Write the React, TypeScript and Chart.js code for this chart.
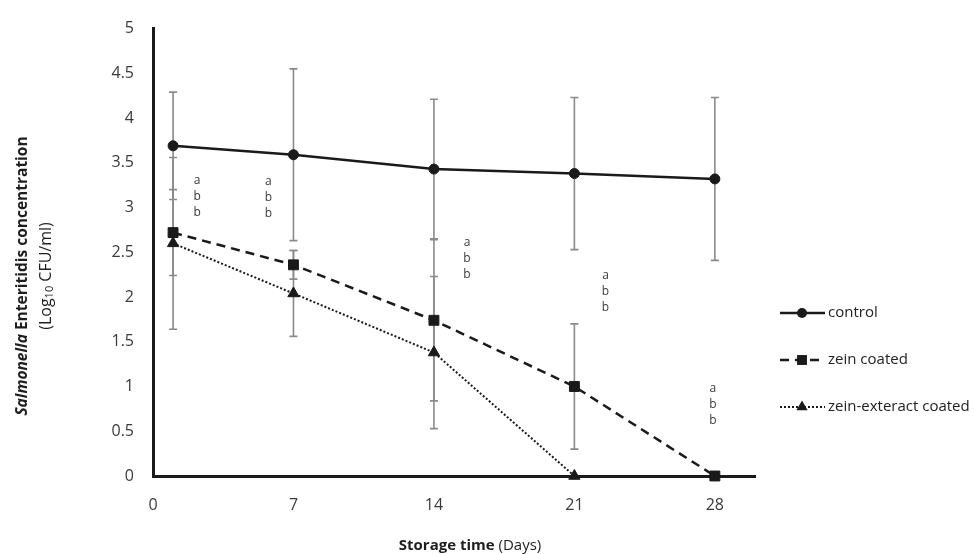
import React, { useEffect, useRef } from 'react';
import { Chart, registerables } from 'chart.js';

Chart.register(...registerables);

// ---- data ----
const DAYS = [1, 7, 14, 21, 28];
const X_TICKS = [0, 7, 14, 21, 28];

const CONTROL = [3.69, 3.59, 3.43, 3.38, 3.32];
const CONTROL_SD = [0.6, 0.96, 0.78, 0.85, 0.91];

const ZEIN = [2.72, 2.36, 1.74, 1.0, 0];
const ZEIN_SD = [0.48, 0.16, 0.9, 0.7, 0];

const EXTRACT: (number | null)[] = [2.6, 2.04, 1.38, 0, null];
const EXTRACT_SD = [0.96, 0.48, 0.85, 0, 0];

const SERIES_NAMES = ['control', 'zein coated', 'zein-exteract coated'];

// significance letters (data units)
const LETTER_X = [2.2, 5.75, 15.65, 22.55, 27.9];
const LETTER_Y = [3.3, 3.29, 2.61, 2.24, 0.98];
const LETTERS = ['a', 'b', 'b'];

const FONT = '"Open Sans", "DejaVu Sans", sans-serif';
const TEXT = '#3a3a3a';
const INK = '#1a1a1a';

export default function App() {
  const ref = useRef<HTMLCanvasElement>(null);

  useEffect(() => {
    document.body.style.margin = '0';
    const canvas = ref.current;
    if (!canvas) return;

    const sds = [CONTROL_SD, ZEIN_SD, EXTRACT_SD];

    function drawMarker(ctx: CanvasRenderingContext2D, style: string, r: number, x: number, y: number) {
      ctx.beginPath();
      if (style === 'circle') {
        ctx.arc(x, y, r, 0, Math.PI * 2);
      } else if (style === 'rect') {
        const s = Math.SQRT1_2 * r;
        ctx.rect(x - s, y - s, 2 * s, 2 * s);
      } else if (style === 'triangle') {
        ctx.moveTo(x, y - r);
        ctx.lineTo(x + r * Math.sin((2 * Math.PI) / 3), y - r * Math.cos((2 * Math.PI) / 3));
        ctx.lineTo(x + r * Math.sin((4 * Math.PI) / 3), y - r * Math.cos((4 * Math.PI) / 3));
        ctx.closePath();
      }
      ctx.fill();
    }

    const errorBars = {
      id: 'errorBars',
      beforeDatasetsDraw(chart: any) {
        const { ctx } = chart;
        const xs = chart.scales.x;
        const ys = chart.scales.y;
        ctx.save();
        ctx.strokeStyle = '#8a8a8a';
        ctx.lineWidth = 1.6;
        chart.data.datasets.forEach((ds: any, i: number) => {
          ds.data.forEach((p: any, j: number) => {
            const sd = sds[i][j];
            if (!sd || p.y == null) return;
            const x = xs.getPixelForValue(p.x);
            const y1 = ys.getPixelForValue(p.y + sd);
            const y2 = ys.getPixelForValue(Math.max(0, p.y - sd));
            ctx.beginPath();
            ctx.moveTo(x, y1);
            ctx.lineTo(x, y2);
            ctx.moveTo(x - 4, y1);
            ctx.lineTo(x + 4, y1);
            ctx.moveTo(x - 4, y2);
            ctx.lineTo(x + 4, y2);
            ctx.stroke();
          });
        });
        ctx.restore();
      },
    };

    const extras = {
      id: 'extras',
      afterDraw(chart: any) {
        const { ctx } = chart;
        const xs = chart.scales.x;
        const ys = chart.scales.y;
        ctx.save();

        // significance letters
        ctx.fillStyle = TEXT;
        ctx.font = `12px ${FONT}`;
        ctx.textAlign = 'center';
        ctx.textBaseline = 'middle';
        LETTER_X.forEach((lx, i) => {
          const px = xs.getPixelForValue(lx);
          const py = ys.getPixelForValue(LETTER_Y[i]);
          LETTERS.forEach((t, k) => ctx.fillText(t, px, py + k * 16));
        });

        // legend
        const lx0 = 780, lx1 = 825, mx = 802, tx = 828;
        const lys = [313, 360, 407];
        chart.data.datasets.forEach((ds: any, i: number) => {
          const y = lys[i];
          ctx.save();
          ctx.strokeStyle = ds.borderColor;
          ctx.lineWidth = ds.borderWidth;
          ctx.setLineDash(ds.borderDash || []);
          ctx.beginPath();
          ctx.moveTo(lx0, y);
          ctx.lineTo(lx1, y);
          ctx.stroke();
          ctx.restore();
          ctx.save();
          ctx.fillStyle = INK;
          drawMarker(ctx, ds.pointStyle, ds.pointRadius, mx, y);
          ctx.restore();
          ctx.fillStyle = '#222';
          ctx.font = `15px ${FONT}`;
          ctx.textAlign = 'left';
          ctx.textBaseline = 'middle';
          ctx.fillText(SERIES_NAMES[i], tx, y);
        });

        // y axis title (two lines, rotated)
        ctx.fillStyle = '#1e1e1e';
        ctx.textBaseline = 'middle';
        ctx.textAlign = 'left';
        const cy = 276;
        // line 1
        ctx.save();
        ctx.translate(23, cy);
        ctx.rotate(-Math.PI / 2);
        const f1a = `italic bold 15.5px ${FONT}`;
        const f1b = `bold 15.5px ${FONT}`;
        const p1a = 'Salmonella';
        const p1b = ' Enteritidis concentration';
        ctx.font = f1a;
        const w1a = ctx.measureText(p1a).width;
        ctx.font = f1b;
        const w1b = ctx.measureText(p1b).width;
        let sx = -(w1a + w1b) / 2;
        ctx.font = f1a;
        ctx.fillText(p1a, sx, 0);
        ctx.font = f1b;
        ctx.fillText(p1b, sx + w1a, 0);
        ctx.restore();
        // line 2
        ctx.save();
        ctx.translate(46, cy);
        ctx.rotate(-Math.PI / 2);
        const f2 = `16px ${FONT}`;
        const f2s = `11px ${FONT}`;
        ctx.font = f2;
        const wa = ctx.measureText('(Log').width;
        const wc = ctx.measureText(' CFU/ml)').width;
        ctx.font = f2s;
        const wb = ctx.measureText('10').width;
        sx = -(wa + wb + wc) / 2;
        ctx.font = f2;
        ctx.fillText('(Log', sx, 0);
        ctx.font = f2s;
        ctx.fillText('10', sx + wa, 4);
        ctx.font = f2;
        ctx.fillText(' CFU/ml)', sx + wa + wb, 0);
        ctx.restore();

        // x axis title
        const fb = `bold 15px ${FONT}`;
        const fr = `15px ${FONT}`;
        ctx.font = fb;
        const wt1 = ctx.measureText('Storage time').width;
        ctx.font = fr;
        const wt2 = ctx.measureText(' (Days)').width;
        const xcx = 470;
        const xx = xcx - (wt1 + wt2) / 2;
        ctx.font = fb;
        ctx.fillText('Storage time', xx, 546);
        ctx.font = fr;
        ctx.fillText(' (Days)', xx + wt1, 546);

        ctx.restore();
      },
    };

    const toPts = (vals: (number | null)[]) =>
      DAYS.map((d, i) => ({ x: d, y: vals[i] })).filter((p) => p.y != null);

    const chart = new Chart(canvas, {
      type: 'line',
      data: {
        datasets: [
          {
            label: SERIES_NAMES[0],
            data: toPts(CONTROL),
            borderColor: INK,
            backgroundColor: INK,
            borderWidth: 2.5,
            pointStyle: 'circle',
            pointRadius: 5,
            pointBackgroundColor: INK,
            pointBorderColor: INK,
            pointBorderWidth: 1,
            clip: false,
          } as any,
          {
            label: SERIES_NAMES[1],
            data: toPts(ZEIN),
            borderColor: INK,
            backgroundColor: INK,
            borderWidth: 2.5,
            borderDash: [9, 6],
            pointStyle: 'rect',
            pointRadius: 7,
            pointBackgroundColor: INK,
            pointBorderColor: INK,
            pointBorderWidth: 1,
            clip: false,
          } as any,
          {
            label: SERIES_NAMES[2],
            data: toPts(EXTRACT),
            borderColor: INK,
            backgroundColor: INK,
            borderWidth: 2,
            borderDash: [2, 2],
            pointStyle: 'triangle',
            pointRadius: 6.5,
            pointBackgroundColor: INK,
            pointBorderColor: INK,
            pointBorderWidth: 1,
            clip: false,
          } as any,
        ],
      },
      options: {
        responsive: false,
        animation: false,
        devicePixelRatio: 1,
        layout: { padding: { top: 19, right: 219, left: 0, bottom: 0 } },
        plugins: {
          legend: { display: false },
          tooltip: { enabled: false },
          title: { display: false },
        },
        scales: {
          x: {
            type: 'linear',
            min: 0,
            max: 30,
            afterBuildTicks: (s: any) => {
              s.ticks = X_TICKS.map((v) => ({ value: v }));
            },
            afterFit: (s: any) => {
              s.height = 78;
            },
            grid: { display: false, drawTicks: false },
            border: { color: INK, width: 3 },
            ticks: {
              color: TEXT,
              font: { family: FONT, size: 16 },
              padding: 20,
              maxRotation: 0,
              autoSkip: false,
              callback: (v: any) => String(v),
            },
          },
          y: {
            type: 'linear',
            min: 0,
            max: 5,
            afterFit: (s: any) => {
              s.width = 153;
            },
            grid: { display: false, drawTicks: false },
            border: { color: INK, width: 3 },
            ticks: {
              stepSize: 0.5,
              color: TEXT,
              font: { family: FONT, size: 16 },
              padding: 19,
              callback: (v: any) => String(v),
            },
          },
        },
      },
      plugins: [errorBars, extras],
    });

    return () => chart.destroy();
  }, []);

  return (
    <div style={{ width: 974, height: 554 }}>
      <canvas ref={ref} width={974} height={554} style={{ display: 'block' }} />
    </div>
  );
}
